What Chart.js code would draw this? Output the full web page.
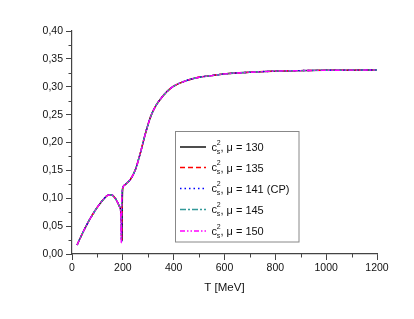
<!DOCTYPE html>
<html>
<head>
<meta charset="utf-8">
<script src="https://cdn.jsdelivr.net/npm/chart.js@4/dist/chart.umd.min.js"></script>
<style>
html,body{margin:0;padding:0;background:#fff;}
#wrap{width:414px;height:319px;position:relative;}
</style>
</head>
<body>
<div id="wrap"><canvas id="c" width="414" height="319"></canvas></div>
<script>
// Temperature grid (MeV)
const T = [20,40,60,80,100,120,140,155,170,180,186,189,191,192,193,194,195,196,197,198,199,200,203,208,215,230,250,270,290,310,330,350,375,400,450,500,550,600,700,800,900,1000,1100,1200];
// speed of sound squared for each chemical potential
const cs130 = [0.016,0.036,0.054,0.070,0.084,0.096,0.105,0.106,0.100,0.092,0.086,0.083,0.080,0.078,0.075,0.068,0.055,0.032,0.025,0.090,0.115,0.119,0.122,0.124,0.127,0.134,0.152,0.183,0.218,0.247,0.266,0.279,0.292,0.301,0.311,0.317,0.320,0.323,0.326,0.328,0.329,0.3295,0.3298,0.330];
const cs135 = [0.016,0.036,0.054,0.070,0.084,0.096,0.105,0.106,0.100,0.092,0.086,0.083,0.080,0.077,0.073,0.062,0.030,0.024,0.070,0.108,0.116,0.119,0.122,0.124,0.127,0.134,0.152,0.183,0.218,0.247,0.266,0.279,0.292,0.301,0.311,0.317,0.320,0.323,0.326,0.328,0.329,0.3295,0.3298,0.330];
const cs141 = [0.016,0.036,0.054,0.070,0.084,0.096,0.105,0.106,0.100,0.092,0.086,0.083,0.079,0.076,0.070,0.045,0.022,0.050,0.100,0.114,0.117,0.119,0.122,0.124,0.127,0.134,0.152,0.183,0.218,0.247,0.266,0.279,0.292,0.301,0.311,0.317,0.320,0.323,0.326,0.328,0.329,0.3295,0.3298,0.330];
const cs145 = [0.016,0.036,0.054,0.070,0.084,0.096,0.105,0.106,0.100,0.092,0.086,0.082,0.078,0.074,0.055,0.025,0.060,0.105,0.113,0.116,0.118,0.119,0.122,0.124,0.127,0.134,0.152,0.183,0.218,0.247,0.266,0.279,0.292,0.301,0.311,0.317,0.320,0.323,0.326,0.328,0.329,0.3295,0.3298,0.330];
const cs150 = [0.016,0.036,0.054,0.070,0.084,0.096,0.105,0.106,0.100,0.092,0.086,0.082,0.077,0.060,0.030,0.020,0.080,0.108,0.113,0.116,0.118,0.119,0.122,0.124,0.127,0.134,0.152,0.183,0.218,0.247,0.266,0.279,0.292,0.301,0.311,0.317,0.320,0.323,0.326,0.328,0.329,0.3295,0.3298,0.330];
const mus = ['130','135','141 (CP)','145','150'];
const seriesValues = [cs130, cs135, cs141, cs145, cs150];
const colors = ['#000000','#ff0000','#0000ff','#339999','#ff00ff'];
const dashes = [[], [5,3], [1.5,3], [6,2,2,2], [5,2,1.5,2,1.5,2]];
const xTicksMinor = [100,300,500,700,900,1100];
const yTicksMinor = [0.025,0.075,0.125,0.175,0.225,0.275,0.325,0.375];

const FONT = "'Liberation Sans', Arial, sans-serif";

const datasets = seriesValues.map((vals, i) => ({
  label: 'mu = ' + mus[i],
  data: T.map((t, k) => ({x: t, y: vals[k]})),
  borderColor: colors[i],
  borderDash: dashes[i],
  borderWidth: 1.4,
  pointRadius: 0,
  fill: false,
  cubicInterpolationMode: 'monotone',
  order: 5 - i
}));

const extras = {
  id: 'extras',
  afterDraw(chart) {
    const ctx = chart.ctx;
    const xs = chart.scales.x, ys = chart.scales.y;
    const ca = chart.chartArea;
    ctx.save();
    // minor ticks
    ctx.strokeStyle = '#444';
    ctx.lineWidth = 1;
    ctx.beginPath();
    xTicksMinor.forEach(v => {
      const px = Math.round(xs.getPixelForValue(v)) + 0.5;
      ctx.moveTo(px, ca.bottom); ctx.lineTo(px, ca.bottom + 3.5);
    });
    yTicksMinor.forEach(v => {
      const py = Math.round(ys.getPixelForValue(v)) + 0.5;
      ctx.moveTo(ca.left, py); ctx.lineTo(ca.left - 3.5, py);
    });
    ctx.stroke();

    // legend
    const bx = 175.5, by = 131.5, bw = 123.5, bh = 110.5;
    ctx.fillStyle = '#fff';
    ctx.fillRect(bx, by, bw, bh);
    ctx.strokeStyle = '#888';
    ctx.lineWidth = 1;
    ctx.strokeRect(bx, by, bw, bh);
    const rows = [147, 167.5, 188.5, 209.5, 231];
    rows.forEach((yc, i) => {
      ctx.strokeStyle = colors[i];
      ctx.lineWidth = 1.4;
      ctx.setLineDash(dashes[i]);
      ctx.beginPath();
      ctx.moveTo(180, yc); ctx.lineTo(206, yc);
      ctx.stroke();
      ctx.setLineDash([]);
      ctx.fillStyle = '#111';
      ctx.textBaseline = 'alphabetic';
      ctx.textAlign = 'left';
      ctx.font = '11px ' + FONT;
      const cx = 211.5;
      ctx.fillText('c', cx, yc + 3.5);
      const cw = ctx.measureText('c').width;
      ctx.font = '7px ' + FONT;
      ctx.fillText('2', cx + cw - 0.3, yc - 2.5);
      ctx.fillText('s', cx + cw - 0.3, yc + 6.5);
      const sw = Math.max(ctx.measureText('2').width, ctx.measureText('s').width);
      ctx.font = '11px ' + FONT;
      ctx.fillText(', \u03bc = ' + mus[i], cx + cw + sw - 0.5, yc + 4);
    });
    ctx.restore();
  }
};

new Chart(document.getElementById('c'), {
  type: 'line',
  data: { datasets },
  plugins: [extras],
  options: {
    responsive: false,
    animation: false,
    layout: { padding: { left: 0, right: 37, top: 31, bottom: 24 } },
    plugins: { legend: { display: false }, tooltip: { enabled: false } },
    scales: {
      x: {
        type: 'linear', min: 0, max: 1200,
        afterFit(s) { s.height = 41; },
        ticks: { stepSize: 200, color: '#111', font: { family: FONT, size: 10.5 }, padding: 2, maxRotation: 0,
          callback: v => String(v) },
        grid: { drawOnChartArea: false, drawTicks: true, tickLength: 6, color: '#444', lineWidth: 1 },
        border: { color: '#444', width: 1.2 },
        title: { display: true, text: 'T [MeV]', color: '#111', font: { family: FONT, size: 11.5 }, padding: { top: 4, bottom: 0 } }
      },
      y: {
        type: 'linear', min: 0, max: 0.4,
        afterFit(s) { s.width = 72; },
        ticks: { stepSize: 0.05, color: '#111', font: { family: FONT, size: 10.5 }, padding: 3,
          callback: v => v.toFixed(2).replace('.', ',') },
        grid: { drawOnChartArea: false, drawTicks: true, tickLength: 6, color: '#444', lineWidth: 1 },
        border: { color: '#444', width: 1.2 }
      }
    }
  }
});
</script>
</body>
</html>
